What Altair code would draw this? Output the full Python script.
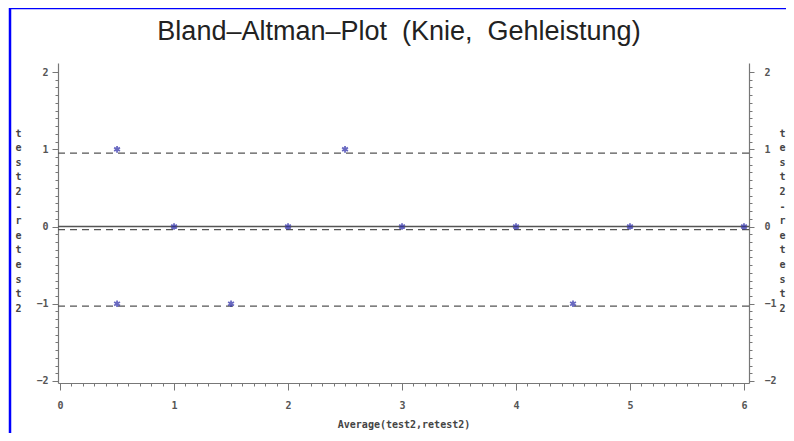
import altair as alt
import pandas as pd

# ---- data ----
avg_vals = [0.5, 2.5, 1.0, 2.0, 3.0, 4.0, 5.0, 6.0, 0.5, 1.5, 4.5]
diff_vals = [1, 1, 0, 0, 0, 0, 0, 0, -1, -1, -1]
dashed_levels = [0.95, -0.04, -1.03]
zero_level = [0.0]
x_major = [0, 1, 2, 3, 4, 5, 6]
x_minor = [round(i * 0.1, 1) for i in range(61) if i % 10]
y_major = [-2, -1, 0, 1, 2]
y_minor = [round(-2 + i * 0.1, 1) for i in range(41) if i % 10]
x_title = "Average(test2,retest2)"
y_title = list("test2-retest2")
title_text = "Bland–Altman–Plot\u00a0 (Knie,\u00a0 Gehleistung)"

df = pd.DataFrame({"avg": avg_vals, "diff": diff_vals})

xs = alt.Scale(domain=[-0.018, 6.044], nice=False, zero=False)
ys = alt.Scale(domain=[-2.026, 2.117], nice=False, zero=False)

AX = dict(domainColor="#777777", tickColor="#777777", labelColor="#555555",
          labelFont="DejaVu Sans Mono", labelFontWeight="bold", labelFontSize=10,
          grid=False, domainWidth=1.2, tickWidth=1)
TT = dict(titleFont="DejaVu Sans Mono", titleFontWeight="bold", titleFontSize=10,
          titleColor="#444444")

STAR = "M0,-1L0,1M-0.87,-0.5L0.87,0.5M-0.87,0.5L0.87,-0.5"

points = alt.Chart(df).mark_point(
    shape=STAR, size=45, strokeWidth=1.8, color="#2a2aa8", filled=False, clip=False
).encode(
    x=alt.X("avg:Q", scale=xs, axis=alt.Axis(
        values=x_major, orient="bottom", tickSize=7, labelPadding=10,
        title=x_title, titlePadding=9, **AX, **TT)),
    y=alt.Y("diff:Q", scale=ys, axis=alt.Axis(
        values=y_major, orient="left", tickSize=6, labelPadding=4,
        title=y_title, titleAngle=0, titleX=-40, titleY=70, titleLineHeight=14.6,
        titleBaseline="middle", titleAlign="center", **AX, **TT)),
)

minor = alt.Chart(df).mark_point(opacity=0).encode(
    x=alt.X("avg:Q", scale=xs, axis=alt.Axis(
        values=x_minor, orient="bottom", tickSize=3, labels=False, domain=False,
        title="", **AX)),
    y=alt.Y("diff:Q", scale=ys, axis=alt.Axis(
        values=y_minor, orient="left", tickSize=3, labels=False, domain=False,
        title="", **AX)),
)

right_major = alt.Chart(df).mark_point(opacity=0).encode(
    x=alt.X("avg:Q", scale=xs, axis=None),
    y=alt.Y("diff:Q", scale=ys, axis=alt.Axis(
        values=y_major, orient="right", tickSize=5, labelPadding=10,
        title=y_title, titleAngle=0, titleX=33, titleY=70, titleLineHeight=14.6,
        titleBaseline="middle", titleAlign="center", **AX, **TT)),
)

right_minor = alt.Chart(df).mark_point(opacity=0).encode(
    x=alt.X("avg:Q", scale=xs, axis=None),
    y=alt.Y("diff:Q", scale=ys, axis=alt.Axis(
        values=y_minor, orient="right", tickSize=3, labels=False, domain=False,
        title="", **AX)),
)

zero_rule = alt.Chart(pd.DataFrame({"lvl": zero_level})).mark_rule(
    color="#555555", strokeWidth=1.3
).encode(y=alt.Y("lvl:Q", scale=ys, axis=None))

dashed_rules = alt.Chart(pd.DataFrame({"lvl": dashed_levels})).mark_rule(
    color="#555555", strokeWidth=1.2, strokeDash=[7, 5]
).encode(y=alt.Y("lvl:Q", scale=ys, axis=None))

border_top = alt.Chart(pd.DataFrame({"k": [0]})).mark_rule(
    color="#0000ff", strokeWidth=2.5, clip=False
).encode(x=alt.value(-48), x2=alt.value(740), y=alt.value(-55))

border_left = alt.Chart(pd.DataFrame({"k": [0]})).mark_rule(
    color="#0000ff", strokeWidth=2.5, clip=False
).encode(x=alt.value(-48), y=alt.value(-56), y2=alt.value(400))

title_mark = alt.Chart(pd.DataFrame({"t": [title_text]})).mark_text(
    font="Liberation Sans", fontSize=27, color="#222222", align="center",
    baseline="alphabetic", clip=False
).encode(text="t:N", x=alt.value(341), y=alt.value(-23))

chart = alt.layer(
    zero_rule, dashed_rules, points, minor, right_major, right_minor,
    border_top, border_left, title_mark
).resolve_axis(x="independent", y="independent").properties(
    width=691, height=320,
    autosize=alt.AutoSizeParams(type="none"),
    padding={"left": 50, "top": 55, "right": 37, "bottom": 50},
).configure_view(strokeWidth=0)

chart.save("out.html", embed_options={"renderer": "svg", "actions": False})
